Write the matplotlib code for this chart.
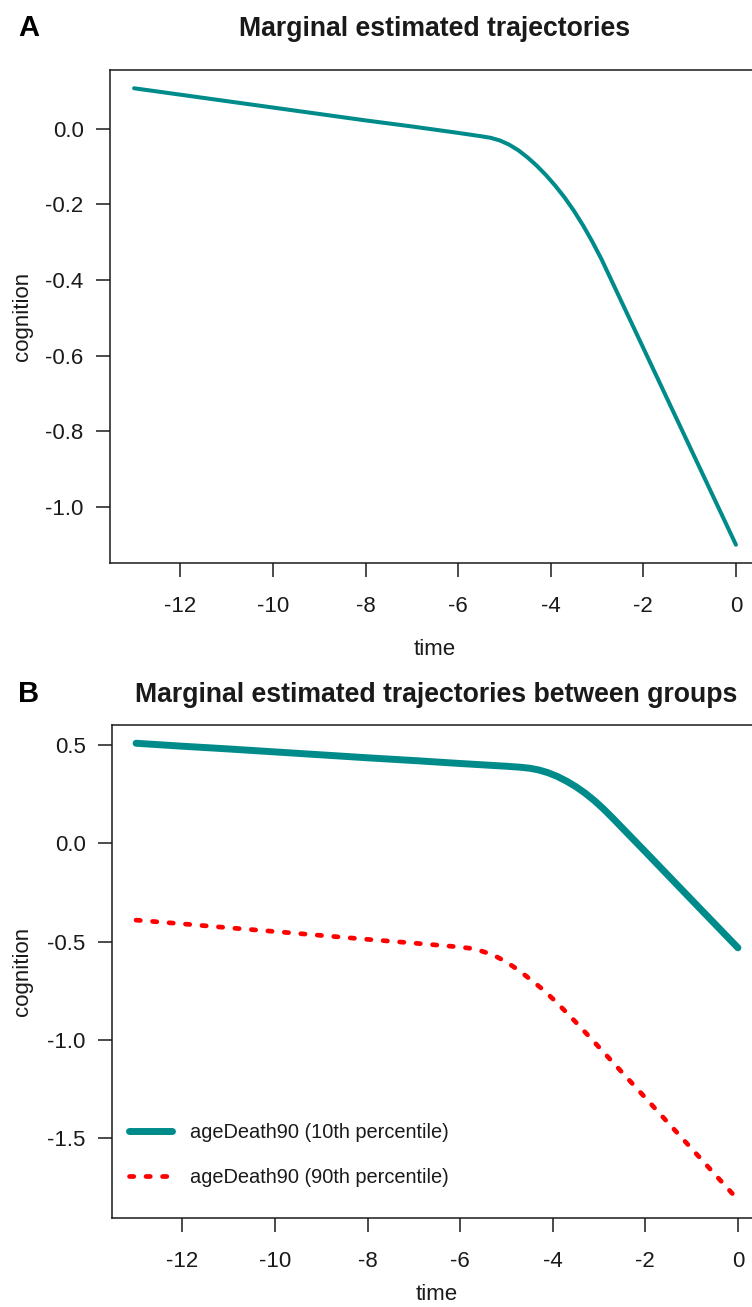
import matplotlib
matplotlib.use("Agg")
import matplotlib.pyplot as plt

plt.rcParams['font.family'] = ['Liberation Sans', 'DejaVu Sans']
plt.rcParams['axes.unicode_minus'] = False

# ---------------- data ----------------
time_a = [-13, -12, -11, -10, -9, -8, -7, -6, -5.5, -5.3, -5.1, -4.9, -4.7, -4.5,
          -4.3, -4.1, -3.9, -3.7, -3.5, -3.3, -3.1, -2.9, -2.0, -1.0, 0.0]
cog_a = [0.107, 0.090, 0.073, 0.056, 0.039, 0.022, 0.006, -0.011, -0.020, -0.024,
         -0.031, -0.042, -0.057, -0.076, -0.098, -0.123, -0.151, -0.182, -0.217,
         -0.256, -0.299, -0.346, -0.580, -0.840, -1.100]

time_b10 = [-13, -12, -11, -10, -9, -8, -7, -6, -5, -4.7, -4.5, -4.3, -4.1, -3.9,
            -3.7, -3.5, -3.3, -3.1, -2.9, -2.7, -2, -1, 0]
cog_b10 = [0.510, 0.495, 0.481, 0.466, 0.451, 0.436, 0.422, 0.407, 0.393, 0.388,
           0.383, 0.374, 0.360, 0.341, 0.317, 0.289, 0.256, 0.218, 0.175, 0.128,
           -0.042, -0.287, -0.531]

time_b90 = [-13, -12, -11, -10, -9, -8, -7, -6, -5.8, -5.6, -5.4, -5.2, -5.0, -4.8,
            -4.6, -4.4, -4.2, -4.0, -3.8, -3.6, -3.4, -3.2, -3.0, -2, -1, 0]
cog_b90 = [-0.390, -0.409, -0.429, -0.448, -0.468, -0.488, -0.507, -0.527, -0.533,
           -0.543, -0.558, -0.578, -0.603, -0.635, -0.670, -0.707, -0.746, -0.790,
           -0.837, -0.885, -0.935, -0.986, -1.037, -1.294, -1.553, -1.813]

xticks = [-12, -10, -8, -6, -4, -2, 0]
yticks_a = [-1.0, -0.8, -0.6, -0.4, -0.2, 0.0]
yticks_b = [-1.5, -1.0, -0.5, 0.0, 0.5]
labels_b = ["ageDeath90 (10th percentile)", "ageDeath90 (90th percentile)"]
title_a = "Marginal estimated trajectories"
title_b = "Marginal estimated trajectories between groups"

TEAL = "#008B8B"
RED = "#FF0000"
INK = "#1a1a1a"

W, H = 752, 1307
fig = plt.figure(figsize=(W / 100, H / 100), dpi=100)


def px_axes(l, t, r, b):
    return fig.add_axes([l / W, 1 - b / H, (r - l) / W, (b - t) / H])


def style(ax, yticks):
    ax.margins(x=0.04, y=0.04)
    ax.set_xticks(xticks)
    ax.set_xticklabels([f"{v:d}" for v in xticks])
    ax.set_yticks(yticks)
    ax.set_yticklabels([f"{v:.1f}" for v in yticks])
    for s in ax.spines.values():
        s.set_linewidth(1.1)
        s.set_color(INK)
    ax.tick_params(axis='both', direction='out', length=10, width=1.1,
                   labelsize=16, colors=INK)
    ax.tick_params(axis='x', pad=14)
    ax.tick_params(axis='y', pad=9)


axA = px_axes(110, 70, 760, 563)
axA.plot(time_a, cog_a, color=TEAL, lw=2.9, solid_capstyle='round',
         solid_joinstyle='round')
style(axA, yticks_a)

axB = px_axes(112, 725, 762, 1218)
l1, = axB.plot(time_b10, cog_b10, color=TEAL, lw=5, solid_capstyle='round',
               solid_joinstyle='round', label=labels_b[0])
l2, = axB.plot(time_b90, cog_b90, color=RED, lw=3.4,
               linestyle=(0, (0.9, 2.6)), dash_capstyle='round',
               label=labels_b[1])
style(axB, yticks_b)

leg = fig.legend(handles=[l1, l2], loc='upper left',
                 bbox_to_anchor=(129 / W, 1 - 1123 / H), frameon=False,
                 fontsize=14.4, handlelength=2.15, handletextpad=0.9,
                 labelspacing=1.3, borderpad=0, borderaxespad=0)
for t in leg.get_texts():
    t.set_color(INK)

# titles and panel letters
fig.text(435 / W, 1 - 36 / H, title_a, ha='center', va='baseline',
         fontsize=19.2, fontweight='bold', color=INK)
fig.text(436 / W, 1 - 702 / H, title_b, ha='center', va='baseline',
         fontsize=19.2, fontweight='bold', color=INK)
fig.text(18 / W, 1 - 36 / H, "A", ha='left', va='baseline',
         fontsize=21, fontweight='bold', color='black')
fig.text(18 / W, 1 - 702 / H, "B", ha='left', va='baseline',
         fontsize=21, fontweight='bold', color='black')

# axis labels
fig.text(435 / W, 1 - 655 / H, "time", ha='center', va='baseline',
         fontsize=16, color=INK)
fig.text(437 / W, 1 - 1300 / H, "time", ha='center', va='baseline',
         fontsize=16, color=INK)
fig.text(22 / W, 1 - 316.5 / H, "cognition", ha='center', va='center',
         rotation=90, fontsize=16, color=INK)
fig.text(22 / W, 1 - 971.5 / H, "cognition", ha='center', va='center',
         rotation=90, fontsize=16, color=INK)

fig.savefig("out.png", dpi=100)
